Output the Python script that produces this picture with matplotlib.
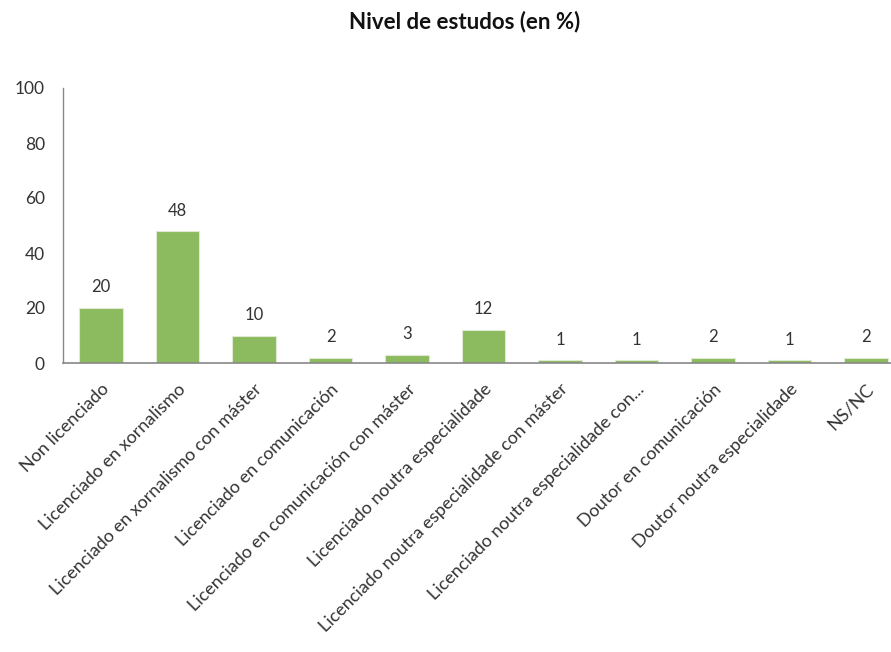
import matplotlib
matplotlib.use("Agg")
import matplotlib.pyplot as plt

categories = [
    "Non licenciado",
    "Licenciado en xornalismo",
    "Licenciado en xornalismo con máster",
    "Licenciado en comunicación",
    "Licenciado en comunicación con máster",
    "Licenciado noutra especialidade",
    "Licenciado noutra especialidade con máster",
    "Licenciado noutra especialidade con...",
    "Doutor en comunicación",
    "Doutor noutra especialidade",
    "NS/NC",
]
values = [20, 48, 10, 2, 3, 12, 1, 1, 2, 1, 2]
yticks = [0, 20, 40, 60, 80, 100]
title = "Nivel de estudos (en %)"

plt.rcParams['font.family'] = ['Lato', 'DejaVu Sans']

fig = plt.figure(figsize=(8.91, 6.52), dpi=100)
ax = fig.add_axes([63/891, (652-363)/652, 841/891, 275/652])

x = list(range(len(categories)))
bar_color = "#8BBB5E"
ax.bar(x, values, width=0.57, color=bar_color, edgecolor="#dfe9d3", linewidth=0.8, zorder=2)

for xi, v in zip(x, values):
    ax.annotate(str(v), (xi, v), xytext=(0, 9), textcoords="offset points",
                ha="center", va="bottom", fontsize=12, color="#333333")

ax.set_xlim(-0.5, len(categories) - 0.5)
ax.set_ylim(0, 100)
ax.set_yticks(yticks)
ax.set_yticklabels([str(t) for t in yticks], fontsize=12.5, color="#333333")
ax.tick_params(axis="y", length=0, pad=13)
ax.set_xticks(x)
ax.set_xticklabels(categories, rotation=45, ha="right", rotation_mode="anchor",
                   fontsize=13, color="#333333")
ax.tick_params(axis="x", length=0, pad=13)

for s in ["top", "right"]:
    ax.spines[s].set_visible(False)
ax.spines["left"].set_color("#888888")
ax.spines["bottom"].set_color("#888888")
ax.spines["left"].set_linewidth(1.0)
ax.spines["bottom"].set_linewidth(1.2)

fig.text(465/891, 1 - 22/652, title, ha="center", va="center",
         fontsize=16, fontweight="bold", color="#111111")

fig.savefig("out.png", dpi=100)
